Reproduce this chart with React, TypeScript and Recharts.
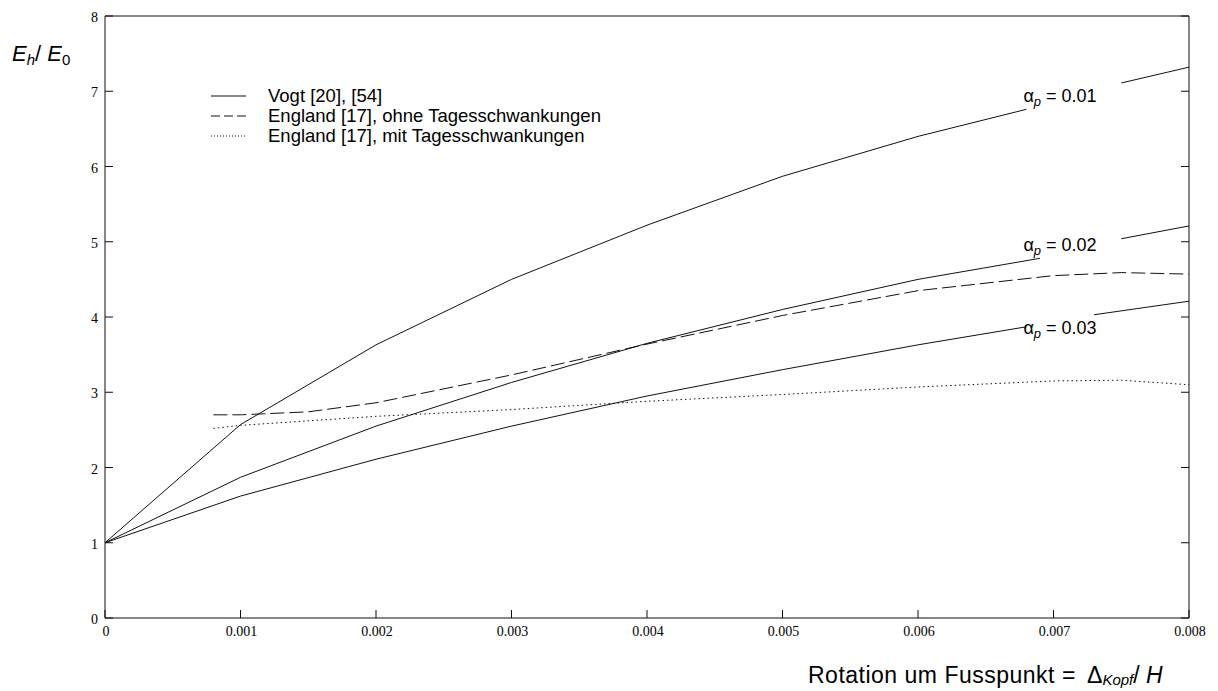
import { LineChart, Line, XAxis, YAxis, ReferenceDot } from 'recharts';

type Pt = { x: number; y: number };

// Vogt curves, split where the alpha labels sit on the line
const VOGT_001_A: Pt[] = [
  { x: 0, y: 1 }, { x: 0.001, y: 2.57 }, { x: 0.002, y: 3.63 }, { x: 0.003, y: 4.5 },
  { x: 0.004, y: 5.22 }, { x: 0.005, y: 5.87 }, { x: 0.006, y: 6.4 }, { x: 0.0068, y: 6.76 },
];
const VOGT_001_B: Pt[] = [{ x: 0.0075, y: 7.11 }, { x: 0.008, y: 7.32 }];

const VOGT_002_A: Pt[] = [
  { x: 0, y: 1 }, { x: 0.001, y: 1.87 }, { x: 0.002, y: 2.55 }, { x: 0.003, y: 3.13 },
  { x: 0.004, y: 3.65 }, { x: 0.005, y: 4.1 }, { x: 0.006, y: 4.5 }, { x: 0.0069, y: 4.78 },
];
const VOGT_002_B: Pt[] = [{ x: 0.0075, y: 5.04 }, { x: 0.008, y: 5.21 }];

const VOGT_003_A: Pt[] = [
  { x: 0, y: 1 }, { x: 0.001, y: 1.62 }, { x: 0.002, y: 2.11 }, { x: 0.003, y: 2.55 },
  { x: 0.004, y: 2.95 }, { x: 0.005, y: 3.3 }, { x: 0.006, y: 3.63 }, { x: 0.0068, y: 3.87 },
];
const VOGT_003_B: Pt[] = [{ x: 0.0073, y: 4.03 }, { x: 0.008, y: 4.21 }];

const ENGLAND_OHNE: Pt[] = [
  { x: 0.0008, y: 2.7 }, { x: 0.001, y: 2.7 }, { x: 0.0015, y: 2.74 }, { x: 0.002, y: 2.86 },
  { x: 0.003, y: 3.23 }, { x: 0.004, y: 3.64 }, { x: 0.005, y: 4.02 }, { x: 0.006, y: 4.35 },
  { x: 0.007, y: 4.55 }, { x: 0.0075, y: 4.59 }, { x: 0.008, y: 4.57 },
];

const ENGLAND_MIT: Pt[] = [
  { x: 0.0008, y: 2.52 }, { x: 0.001, y: 2.56 }, { x: 0.002, y: 2.68 }, { x: 0.003, y: 2.77 },
  { x: 0.004, y: 2.88 }, { x: 0.005, y: 2.97 }, { x: 0.006, y: 3.07 }, { x: 0.007, y: 3.15 },
  { x: 0.0075, y: 3.16 }, { x: 0.008, y: 3.1 },
];

const ALPHA_LABELS = [
  { x: 0.0068, y: 6.86, text: '0.01' },
  { x: 0.0068, y: 4.88, text: '0.02' },
  { x: 0.0068, y: 3.77, text: '0.03' },
];

const LEGEND = [
  { label: 'Vogt [20], [54]', dash: undefined as string | undefined },
  { label: 'England [17], ohne Tagesschwankungen', dash: '9 4' },
  { label: 'England [17], mit Tagesschwankungen', dash: '1 2' },
];

const X_TICKS = [0, 0.001, 0.002, 0.003, 0.004, 0.005, 0.006, 0.007, 0.008];
const Y_TICKS = [0, 1, 2, 3, 4, 5, 6, 7, 8];

const INK = '#111';
const TICK_FONT = { fontFamily: 'Liberation Serif', fontSize: 14, fill: '#000' };
const SANS = 'Arial, Liberation Sans, sans-serif';

const LeftTick = (p: any) => (
  <g>
    <line x1={p.x} x2={p.x + 8} y1={p.y} y2={p.y} stroke={INK} />
    <text x={p.x - 7} y={p.y + 6} textAnchor="end" {...TICK_FONT}>{p.payload.value}</text>
  </g>
);
const RightTick = (p: any) => <line x1={p.x - 8} x2={p.x} y1={p.y} y2={p.y} stroke={INK} />;
const BottomTick = (p: any) => (
  <g>
    <line x1={p.x} x2={p.x} y1={p.y} y2={p.y - 8} stroke={INK} />
    <text x={p.x + 1} y={p.y + 18} textAnchor="middle" {...TICK_FONT}>{String(p.payload.value)}</text>
  </g>
);
const TopTick = (p: any) => <line x1={p.x} x2={p.x} y1={p.y} y2={p.y + 8} stroke={INK} />;

const AlphaLabel = (text: string) => (p: any) => (
  <text x={p.cx - 3} y={p.cy} fontFamily={SANS} fontSize={18} fill="#000">
    <tspan>α</tspan>
    <tspan fontSize={13} fontStyle="italic" dy={4}>p</tspan>
    <tspan dy={-4}> = {text}</tspan>
  </text>
);

const solid = { stroke: INK, strokeWidth: 1, dot: false, isAnimationActive: false, type: 'linear' as const };

export default function App() {
  return (
    <div style={{ position: 'fixed', top: 0, left: 0, width: 1218, height: 691, background: '#fff' }}>
      <LineChart width={1218} height={691} margin={{ top: 15, right: 28, bottom: 43, left: 75 }}>
        <XAxis dataKey="x" type="number" domain={[0, 0.008]} ticks={X_TICKS} height={30}
          tickSize={0} tickMargin={0} tickLine={false} tick={BottomTick}
          axisLine={{ stroke: INK }} allowDataOverflow />
        <XAxis xAxisId="top" orientation="top" type="number" domain={[0, 0.008]} ticks={X_TICKS} height={1}
          tickSize={0} tickMargin={0} tickLine={false} tick={TopTick}
          axisLine={{ stroke: INK }} allowDataOverflow />
        <YAxis type="number" domain={[0, 8]} ticks={Y_TICKS} width={30}
          tickSize={0} tickMargin={0} tickLine={false} tick={LeftTick}
          axisLine={{ stroke: INK }} allowDataOverflow />
        <YAxis yAxisId="right" orientation="right" type="number" domain={[0, 8]} ticks={Y_TICKS} width={1}
          tickSize={0} tickMargin={0} tickLine={false} tick={RightTick}
          axisLine={{ stroke: INK }} allowDataOverflow />

        <Line data={VOGT_001_A} dataKey="y" {...solid} />
        <Line data={VOGT_001_B} dataKey="y" {...solid} />
        <Line data={VOGT_002_A} dataKey="y" {...solid} />
        <Line data={VOGT_002_B} dataKey="y" {...solid} />
        <Line data={VOGT_003_A} dataKey="y" {...solid} />
        <Line data={VOGT_003_B} dataKey="y" {...solid} />
        <Line data={ENGLAND_OHNE} dataKey="y" {...solid} strokeDasharray="14 5" />
        <Line data={ENGLAND_MIT} dataKey="y" {...solid} strokeDasharray="1.5 3" />

        {ALPHA_LABELS.map((l) => (
          <ReferenceDot key={l.text} x={l.x} y={l.y} r={0} shape={AlphaLabel(l.text)} />
        ))}
      </LineChart>

      {/* legend and axis titles */}
      <svg width={1218} height={691} style={{ position: 'absolute', left: 0, top: 0, pointerEvents: 'none' }}>
        {LEGEND.map((e, i) => (
          <g key={e.label}>
            <line x1={211} x2={246} y1={96 + i * 20} y2={96 + i * 20} stroke={INK} strokeDasharray={e.dash} />
            <text x={268} y={102 + i * 20} fontFamily={SANS} fontSize={18.5} fill="#000">{e.label}</text>
          </g>
        ))}

        <text x={12} y={61} fontFamily={SANS} fontSize={22} fill="#000">
          <tspan fontStyle="italic">E</tspan>
          <tspan fontSize={15} fontStyle="italic" dy={4}>h</tspan>
          <tspan dy={-4}>/ </tspan>
          <tspan fontStyle="italic">E</tspan>
          <tspan fontSize={15} dy={4}>0</tspan>
        </text>

        <text y={683} fontFamily={SANS} fontSize={23} fill="#000">
          <tspan x={808} letterSpacing={0.5}>Rotation um Fusspunkt =</tspan>
          <tspan x={1087}>Δ</tspan>
          <tspan fontSize={15} fontStyle="italic" dy={2}>Kopf</tspan>
          <tspan dy={-2}>/ </tspan>
          <tspan fontStyle="italic">H</tspan>
        </text>
      </svg>
    </div>
  );
}
